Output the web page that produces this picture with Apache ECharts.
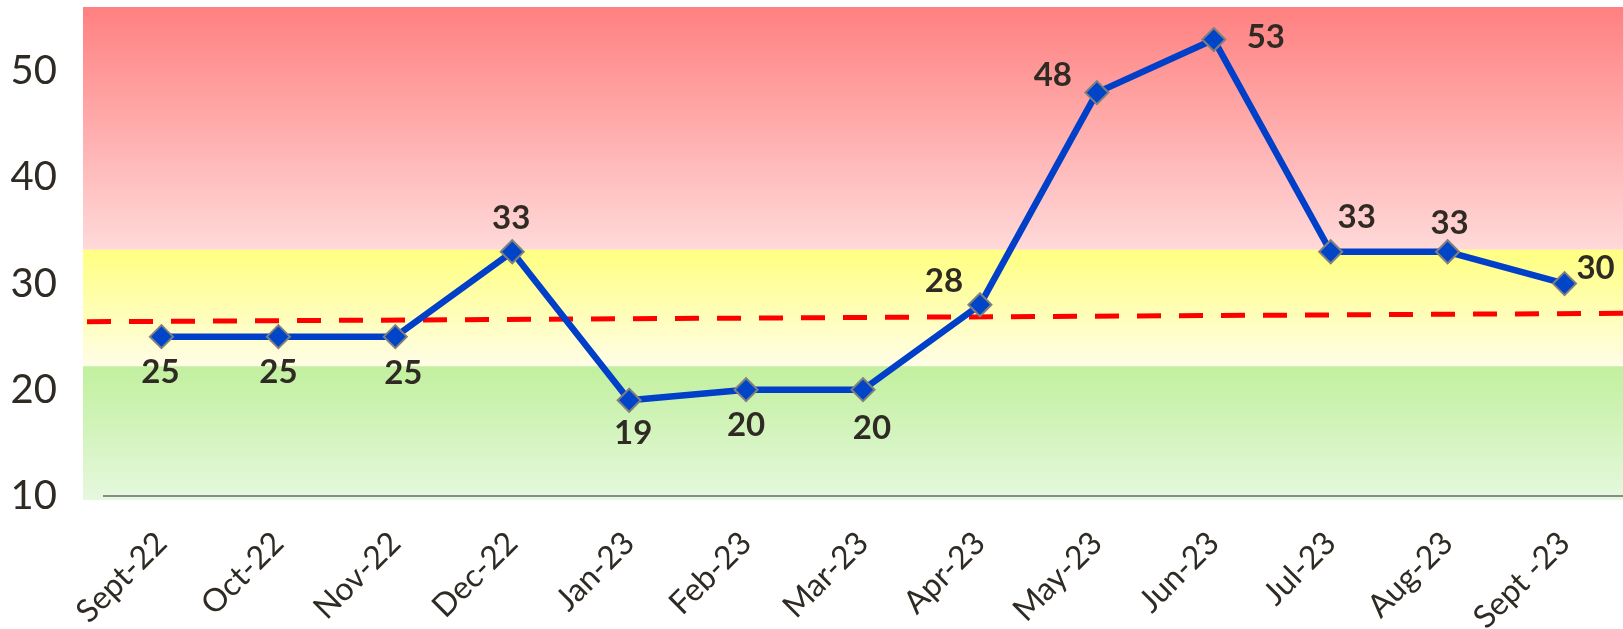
<!DOCTYPE html>
<html>
<head>
<meta charset="utf-8">
<style>
  html, body { margin: 0; padding: 0; background: #fff; }
  #chart { width: 1623px; height: 629px; }
</style>
<script src="https://cdn.jsdelivr.net/npm/echarts@6/dist/echarts.min.js"></script>
</head>
<body>
<div id="chart"></div>
<script>
const months = ['Sept-22', 'Oct-22', 'Nov-22', 'Dec-22', 'Jan-23', 'Feb-23', 'Mar-23',
  'Apr-23', 'May-23', 'Jun-23', 'Jul-23', 'Aug-23', 'Sept -23'];
const counts = [25, 25, 25, 33, 19, 20, 20, 28, 48, 53, 33, 33, 30];
const trendStart = 26.4;
const trendEnd = 27.2;
const yFloor = 10;
// background zones, low/high on the value scale (red, yellow, green)
const zoneLows = [33.2, 22.2, 9.6];
const zoneHighs = [56.07, 33.2, 22.2];

// where each value label sits relative to its marker, in px
const labelOffsets = [[-1, 36], [0, 36], [8, 37], [-1, -33], [4, 33], [0, 36], [9, 39],
  [-36, -23], [-44, -17], [52, -2], [26, -34], [2, -28], [31, -15]];
const zoneColors = [['#ff8080', '#ffd9d9'], ['#ffff80', '#fffde6'], ['#c1f09e', '#e6f8de']];
const ink = '#2f2b24';
const ruleColor = '#8a8a8a';

const chart = echarts.init(document.getElementById('chart'));

chart.setOption({
  animation: false,
  grid: [
    {left: 83, right: 0, top: 7, bottom: 129, outerBoundsMode: 'none', containLabel: false},
    {left: 103, right: 0, top: 71.4 - 10 * 10.61, bottom: 133.2, outerBoundsMode: 'none', containLabel: false},
  ],
  xAxis: [
    {gridIndex: 0, type: 'value', min: 0, max: 1, show: false},
    {
      gridIndex: 1,
      type: 'category',
      data: months,
      boundaryGap: true,
      axisLine: {show: false},
      axisTick: {show: false},
      axisLabel: {
        interval: 0,
        rotate: 45,
        margin: 42,
        fontFamily: 'Lato',
        fontSize: 32,
        color: ink,
      },
    },
  ],
  yAxis: [
    {gridIndex: 0, type: 'value', min: zoneLows[2], max: zoneHighs[0], show: false},
    {
      gridIndex: 1,
      type: 'value',
      min: yFloor,
      max: 60,
      interval: 10,
      axisLine: {show: false},
      axisTick: {show: false},
      axisLabel: {margin: 46, fontFamily: 'Lato', fontSize: 40, color: ink},
      splitLine: {lineStyle: {color: ruleColor, width: 2}},
    },
  ],
  series: [
    {
      type: 'custom',
      xAxisIndex: 0,
      yAxisIndex: 0,
      silent: true,
      z: 1,
      data: zoneLows.map((low, i) => [low, zoneHighs[i]]),
      encode: {y: [0, 1]},
      renderItem: (params, api) => {
        const topLeft = api.coord([0, api.value(1)]);
        const bottomRight = api.coord([1, api.value(0)]);
        const [from, to] = zoneColors[params.dataIndex];
        return {
          type: 'rect',
          shape: {
            x: topLeft[0],
            y: topLeft[1],
            width: bottomRight[0] - topLeft[0],
            height: bottomRight[1] - topLeft[1],
          },
          style: {
            fill: new echarts.graphic.LinearGradient(0, 0, 0, 1, [
              {offset: 0, color: from},
              {offset: 1, color: to},
            ]),
          },
        };
      },
    },
    {
      type: 'line',
      xAxisIndex: 0,
      yAxisIndex: 0,
      silent: true,
      z: 2,
      showSymbol: false,
      data: [[0, trendStart], [1, trendEnd]],
      lineStyle: {color: '#ff0000', width: 5, type: [24, 18], dashOffset: -4},
    },
    {
      type: 'line',
      xAxisIndex: 1,
      yAxisIndex: 1,
      z: 5,
      data: counts.map((value, i) => ({
        value,
        label: {offset: labelOffsets[i]},
      })),
      symbol: 'diamond',
      symbolSize: 23,
      lineStyle: {color: '#0040c8', width: 6.5},
      itemStyle: {color: '#0044c8', borderColor: '#7f7f7f', borderWidth: 2},
      label: {
        show: true,
        position: 'inside',
        fontFamily: 'Lato',
        fontWeight: 'bold',
        fontSize: 33,
        color: ink,
      },
      // bottom rule at the axis floor
      markLine: {
        silent: true,
        symbol: ['none', 'none'],
        label: {show: false},
        emphasis: {disabled: true},
        lineStyle: {color: ruleColor, width: 2, type: 'solid', opacity: 1},
        data: [{yAxis: yFloor, lineStyle: {color: ruleColor, width: 2, type: 'solid'}}],
      },
    },
  ],
});
</script>
</body>
</html>
